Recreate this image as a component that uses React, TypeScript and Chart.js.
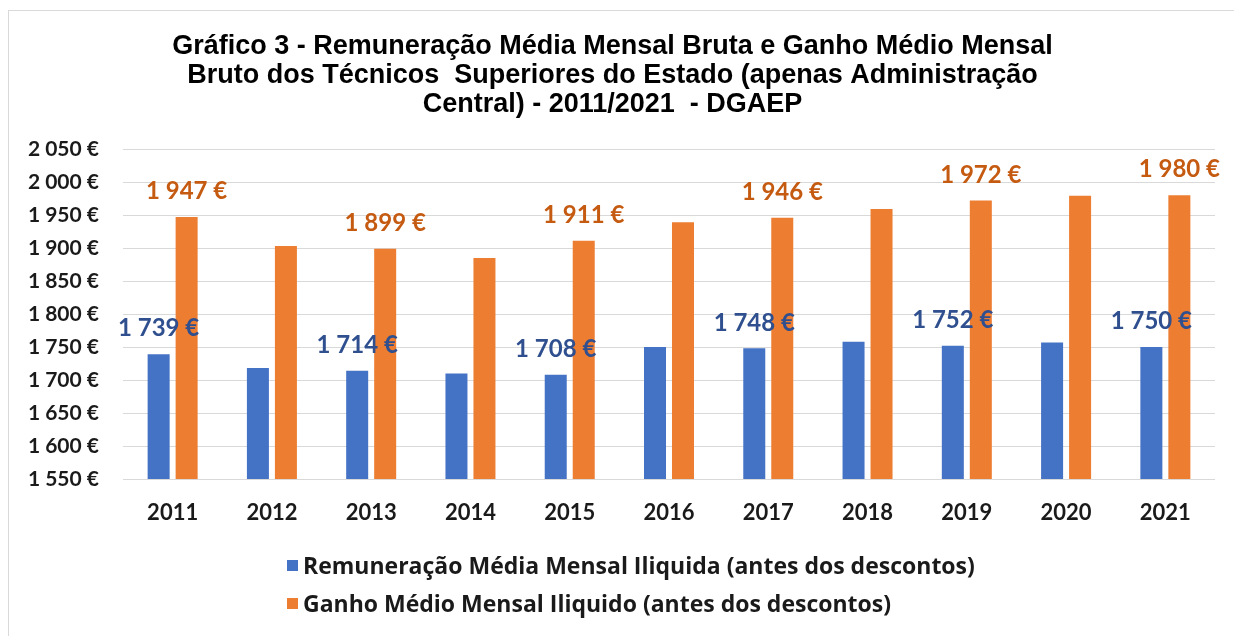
import React, { useEffect, useRef } from "react";
import { Chart, registerables } from "chart.js";

Chart.register(...registerables);

const years = ["2011", "2012", "2013", "2014", "2015", "2016", "2017", "2018", "2019", "2020", "2021"];
const remuneracao = [1739, 1718, 1714, 1710, 1708, 1750, 1748, 1758, 1752, 1757, 1750];
const ganho = [1947, 1903, 1899, 1885, 1911, 1939, 1946, 1959, 1972, 1979, 1980];
const labeledYears = ["2011", "2013", "2015", "2017", "2019", "2021"];
const seriesNames = [
  "Remuneração Média Mensal Iliquida (antes dos descontos)",
  "Ganho Médio Mensal Iliquido (antes dos descontos)",
];
const titleLines = [
  "Gráfico 3 - Remuneração Média Mensal Bruta e Ganho Médio Mensal",
  "Bruto dos Técnicos  Superiores do Estado (apenas Administração",
  "Central) - 2011/2021  - DGAEP",
];
const yMin = 1550;
const yMax = 2050;
const yStep = 50;

const barColors = ["#4472C4", "#ED7D31"];
const labelColors = ["#2F4F8F", "#C55A11"];

function fmtEuro(v: number): string {
  const s = Math.round(v).toString();
  return s.replace(/\B(?=(\d{3})+(?!\d))/g, " ") + " €";
}

const valueLabels = {
  id: "valueLabels",
  afterDatasetsDraw(chart: any) {
    const ctx = chart.ctx;
    ctx.save();
    chart.data.datasets.forEach((ds: any, di: number) => {
      const meta = chart.getDatasetMeta(di);
      meta.data.forEach((el: any, i: number) => {
        if (!labeledYears.includes(chart.data.labels[i])) return;
        ctx.fillStyle = labelColors[di];
        ctx.font = "bold 24px Lato";
        ctx.textAlign = "center";
        ctx.textBaseline = "middle";
        ctx.fillText(fmtEuro(ds.data[i]), el.x, el.y - 25.5);
      });
    });
    ctx.restore();
  },
};

export default function App() {
  const canvasRef = useRef<HTMLCanvasElement | null>(null);

  useEffect(() => {
    if (!canvasRef.current) return;
    const chart = new Chart(canvasRef.current, {
      type: "bar",
      data: {
        labels: years,
        datasets: [
          {
            label: seriesNames[0],
            data: remuneracao,
            backgroundColor: barColors[0],
            barPercentage: 0.786,
            categoryPercentage: 0.564,
          },
          {
            label: seriesNames[1],
            data: ganho,
            backgroundColor: barColors[1],
            barPercentage: 0.786,
            categoryPercentage: 0.564,
          },
        ],
      },
      options: {
        responsive: false,
        animation: false,
        layout: { padding: { left: 10, right: 19, top: 0, bottom: 107 } },
        plugins: {
          legend: { display: false },
          tooltip: { enabled: false },
          title: {
            display: true,
            text: titleLines,
            color: "#000",
            font: { family: '"Liberation Sans", Arial, sans-serif', size: 27, weight: "bold", lineHeight: 29 / 27 },
            padding: { top: 32.5, bottom: 29.5 },
          },
        },
        scales: {
          x: {
            grid: { display: false, drawTicks: false },
            border: { display: false },
            ticks: { color: "#1a1a1a", font: { family: "Lato", size: 22, weight: "bold" }, padding: 21 },
            afterFit(s: any) {
              s.height = 50;
            },
          },
          y: {
            min: yMin,
            max: yMax,
            ticks: {
              stepSize: yStep,
              callback: (v: any) => fmtEuro(Number(v)),
              color: "#1a1a1a",
              font: { family: "Lato", size: 21, weight: "bold" },
              padding: 24,
            },
            grid: { color: "#d9d9d9", drawTicks: false },
            border: { display: false },
            afterFit(s: any) {
              s.width = 113;
            },
          },
        },
      },
      plugins: [valueLabels],
    } as any);
    return () => chart.destroy();
  }, []);

  return (
    <div style={{ position: "fixed", left: 0, top: 0, width: 1234, height: 636, background: "#fff", overflow: "hidden" }}>
      <div
        style={{
          position: "absolute",
          left: 8,
          top: 10,
          width: 1300,
          height: 700,
          borderTop: "1px solid #d9d9d9",
          borderLeft: "1px solid #d9d9d9",
        }}
      />
      <canvas ref={canvasRef} width={1234} height={636} style={{ position: "absolute", left: 0, top: 0 }} />
      <div
        style={{
          position: "absolute",
          left: 287,
          top: 551,
          fontFamily: '"Open Sans", Lato, sans-serif',
          fontWeight: 700,
          fontSize: 23,
          color: "#1a1a1a",
        }}
      >
        {seriesNames.map((n, i) => (
          <div key={n} style={{ display: "flex", alignItems: "center", height: 28, marginBottom: i === 0 ? 10 : 0 }}>
            <span style={{ display: "inline-block", width: 11, height: 11, background: barColors[i], marginRight: 5 }} />
            <span style={{ whiteSpace: "nowrap", lineHeight: "28px" }}>{n}</span>
          </div>
        ))}
      </div>
    </div>
  );
}
